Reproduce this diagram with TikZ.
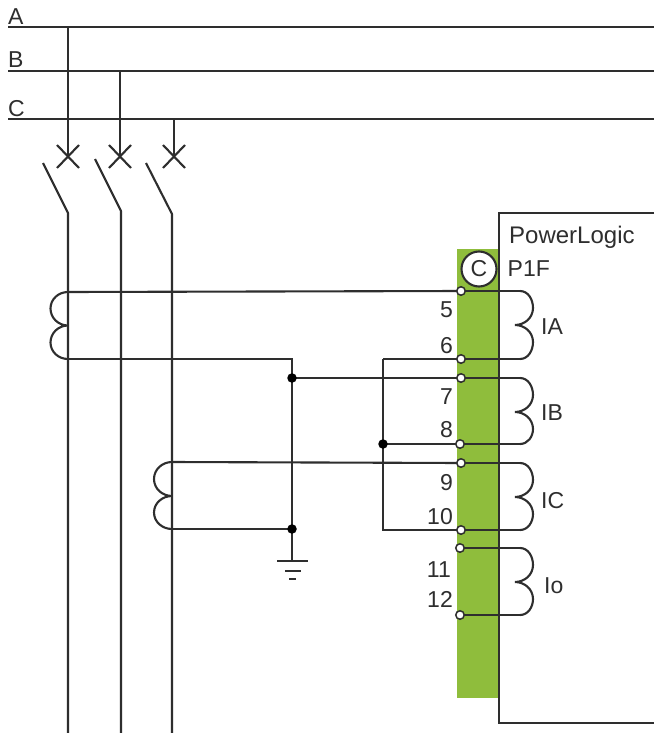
\documentclass[tikz,border=0pt]{standalone}
\usepackage{fontspec}
\usetikzlibrary{calc}
\setmainfont{Liberation Sans}
\definecolor{ink}{HTML}{2E2E2E}
\definecolor{termgreen}{HTML}{8FBD3C}
\pgfdeclarelayer{strip}
\pgfdeclarelayer{wires}
\pgfsetlayers{strip,wires,main}
\tikzset{
  wire/.style={draw=ink,line width=2.1pt},
  term/.style={circle,draw=ink,fill=white,line width=1.5pt,inner sep=0pt,minimum size=8.5pt},
  dotj/.style={circle,fill=black,inner sep=0pt,minimum size=9.5pt},
  lab/.style={font=\fontsize{23}{27}\selectfont,text=ink,inner sep=0pt},
  labw/.style={lab,anchor=base west},
  labe/.style={lab,anchor=base east}
}
\begin{document}
\begin{tikzpicture}[x=1pt,y=-1pt]
\useasboundingbox (0,0) rectangle (654,733);
\begin{pgfonlayer}{strip}
\fill[white] (0,0) rectangle (654,733);
\fill[termgreen] (457,249) rectangle (499,698);
\end{pgfonlayer}
% coordinates
\foreach \n/\x/\y in {
  a0/8/27,a1/654/27,b0/8/71,b1/654/71,c0/8/119,c1/654/119,
  ta/68/27,tb/120/71,tc/174/119,
  xa/68/156,xb/120/156,xc/174/156,
  sa0/43/163,sa1/68/213,sa2/68/733,
  sb0/95/159,sb1/121/211,sb2/121/733,
  sc0/146/163,sc1/172/214,sc2/172/733,
  cta1/68/292,cta2/68/359,ctc1/172/462,ctc2/172/529,
  g0/292/359,gnd/292/561,g1a/277/561,g1b/308/561,g2a/285/571,g2b/301/571,g3a/289/579,g3b/296/579,
  n6/383/359,n10/383/530,
  ia1/520/291,ia2/520/359,ib1/520/378,ib2/520/444,ic1/520/463,ic2/520/530,io1/520/548,io2/520/615,
  bx1/654/213,bx2/499/213,bx3/499/723,bx4/654/723}
  {\coordinate (\n) at (\x,\y);}
% terminals and dots
\node[dotj] (d1) at (292,378) {};
\node[dotj] (d2) at (292,529) {};
\node[dotj] (d3) at (383,444) {};
\node[term] (t5) at (461,291) {};
\node[term] (t6) at (461,359) {};
\node[term] (t7) at (461,378) {};
\node[term] (t8) at (460,444) {};
\node[term] (t9) at (461,463) {};
\node[term] (t10) at (461,530) {};
\node[term] (t11) at (460,548) {};
\node[term] (t12) at (460,615) {};
\begin{pgfonlayer}{wires}
% bus bars
\draw[wire] (a0) -- (a1);
\draw[wire] (b0) -- (b1);
\draw[wire] (c0) -- (c1);
\foreach \p in {a,b,c}{
  \draw[wire] (t\p) -- (x\p);
  \draw[wire] ($(x\p)+(-11,-11)$) -- ($(x\p)+(11,12)$);
  \draw[wire] ($(x\p)+(-11,12)$) -- ($(x\p)+(11,-11)$);
  \draw[wire,line join=round] (s\p0) -- (s\p1) -- (s\p2);
}
% wires left of the strip
\draw[wire] (cta1) -- (t5.center);
\draw[wire] (cta2) -- (g0) -- (gnd);
\draw[wire] (d1.center) -- (t7.center);
\draw[wire] (n6) -- (t6.center);
\draw[wire] (n6) -- (n10) -- (t10.center);
\draw[wire] (d3.center) -- (t8.center);
\draw[wire] (ctc1) -- (t9.center);
\draw[wire] (ctc2) -- (d2.center);
% wires right of the terminals
\draw[wire] (t5.center) -- (ia1); \draw[wire] (t6.center) -- (ia2);
\draw[wire] (t7.center) -- (ib1); \draw[wire] (t8.center) -- (ib2);
\draw[wire] (t9.center) -- (ic1); \draw[wire] (t10.center) -- (ic2);
\draw[wire] (t11.center) -- (io1); \draw[wire] (t12.center) -- (io2);
% device coils
\foreach \s/\e in {ia1/ia2,ib1/ib2,ic1/ic2,io1/io2}{
  \draw[wire] (\s) to[out=0,in=90] ++(13,17) to[out=-90,in=0] ++(-18,17)
              to[out=0,in=90] ++(18,17) to[out=-90,in=0] (\e);
}
% current transformers
\draw[wire] (cta1) to[out=180,in=90] ++(-17.5,16.5) to[out=-90,in=180] ++(17.5,17)
            to[out=180,in=90] ++(-17.5,17) to[out=-90,in=180] (cta2);
\draw[wire] (ctc1) to[out=180,in=90] ++(-18,17) to[out=-90,in=180] ++(18,17)
            to[out=180,in=90] ++(-18,16.5) to[out=-90,in=180] (ctc2);
% ground
\draw[wire] (g1a) -- (g1b);
\draw[wire] (g2a) -- (g2b);
\draw[wire] (g3a) -- (g3b);
\end{pgfonlayer}
% device box
\draw[wire] (bx1) -- (bx2) -- (bx3) -- (bx4);
% C badge
\node[circle,draw=ink,fill=white,line width=2.1pt,minimum size=35pt,inner sep=0pt,lab] (badge) at (479,269) {C};
% labels
\node[labw] (la) at (8,25) {A};
\node[labw] (lb) at (8,68) {B};
\node[labw] (lc) at (8,117) {C};
\node[labw,font=\fontsize{24}{28}\selectfont] (pl) at (509,243) {PowerLogic};
\node[labw] (pf) at (507.5,276) {P1F};
\node[labe] (n5) at (453,317) {5};
\node[labe] (n6l) at (453,353) {6};
\node[labe] (n7) at (453,404) {7};
\node[labe] (n8) at (453,437) {8};
\node[labe] (n9) at (453,490) {9};
\node[labe] (n10l) at (453,524) {10};
\node[labe] (n11) at (451,577) {11};
\node[labe] (n12) at (453,607) {12};
\node[labw] (lia) at (541,334) {IA};
\node[labw] (lib) at (541,420) {IB};
\node[labw] (lic) at (541,508) {IC};
\node[labw] (lio) at (544,593) {Io};
\end{tikzpicture}
\end{document}
